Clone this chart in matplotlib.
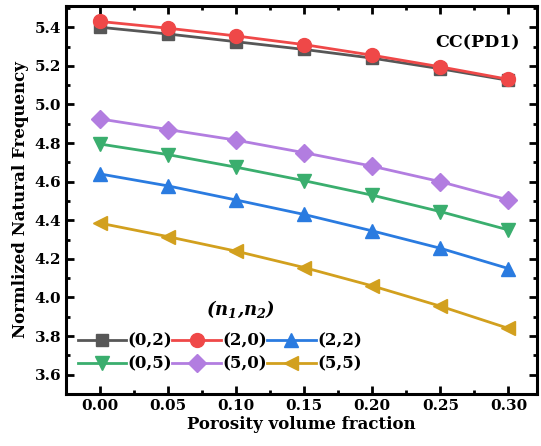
import matplotlib.pyplot as plt
from matplotlib.ticker import MultipleLocator

plt.rcParams['font.family'] = 'DejaVu Serif'
plt.rcParams['font.weight'] = 'bold'
plt.rcParams['mathtext.fontset'] = 'dejavuserif'

porosity = [0.00, 0.05, 0.10, 0.15, 0.20, 0.25, 0.30]

f_02 = [5.400, 5.365, 5.325, 5.285, 5.240, 5.185, 5.125]
f_20 = [5.430, 5.395, 5.355, 5.310, 5.255, 5.195, 5.130]
f_22 = [4.640, 4.578, 4.505, 4.430, 4.345, 4.255, 4.150]
f_05 = [4.795, 4.740, 4.675, 4.605, 4.530, 4.445, 4.350]
f_50 = [4.925, 4.870, 4.815, 4.750, 4.680, 4.600, 4.505]
f_55 = [4.385, 4.315, 4.240, 4.155, 4.060, 3.955, 3.840]

labels = ["(0,2)", "(2,0)", "(2,2)", "(0,5)", "(5,0)", "(5,5)"]
series = [f_02, f_20, f_22, f_05, f_50, f_55]
colors = ["#575757", "#EF4848", "#2A7BE0", "#3AAE6E", "#B27DE0", "#D2A01E"]
markers = ["s", "o", "^", "v", "D", "<"]
msizes = [9, 10, 10, 10, 9, 10]

fig = plt.figure(figsize=(5.41, 4.46), dpi=100)
ax = fig.add_axes([0.122, 0.1166, 0.8706, 0.8699])

lines = []
for y, lab, c, m, ms in zip(series, labels, colors, markers, msizes):
    ln, = ax.plot(porosity, y, color=c, marker=m, markersize=ms, lw=2, label=lab)
    lines.append(ln)

ax.set_xlim(-0.025, 0.321)
ax.set_ylim(3.5, 5.51)
ax.xaxis.set_minor_locator(MultipleLocator(0.025))
ax.yaxis.set_minor_locator(MultipleLocator(0.1))
ax.set_xticks([0.00, 0.05, 0.10, 0.15, 0.20, 0.25, 0.30])
ax.set_xticklabels(["0.00", "0.05", "0.10", "0.15", "0.20", "0.25", "0.30"])
ax.set_yticks([3.6, 3.8, 4.0, 4.2, 4.4, 4.6, 4.8, 5.0, 5.2, 5.4])
ax.set_yticklabels(["3.6", "3.8", "4.0", "4.2", "4.4", "4.6", "4.8", "5.0", "5.2", "5.4"])
ax.tick_params(which='both', direction='in', top=True, right=True, width=2, labelsize=11)
ax.tick_params(which='major', length=6)
ax.tick_params(which='minor', length=3)
for s in ax.spines.values():
    s.set_linewidth(2.2)

ax.set_xlabel("Porosity volume fraction", fontsize=12, fontweight='bold', labelpad=2)
ax.set_ylabel("Normlized Natural Frequency", fontsize=12, fontweight='bold', labelpad=4)

ax.text(0.964, 0.905, "CC(PD1)", transform=ax.transAxes, ha='right', va='center',
        fontsize=12.5, fontweight='bold')
ax.text(0.37, 0.218, "$\\mathbfit{(n_1{,}n_2)}$", transform=ax.transAxes, ha='center',
        va='center', fontsize=13)

# legend filled row by row: 2 rows x 3 columns
order = [0, 3, 1, 4, 2, 5]
ax.legend([lines[i] for i in order], [labels[i] for i in order],
          loc='lower left', ncol=3, frameon=False, fontsize=12, handlelength=2.9,
          handletextpad=0.1, columnspacing=0.0, labelspacing=0.35,
          bbox_to_anchor=(0.0, 0.025), borderaxespad=0.3)

fig.savefig("out.png", dpi=100)
